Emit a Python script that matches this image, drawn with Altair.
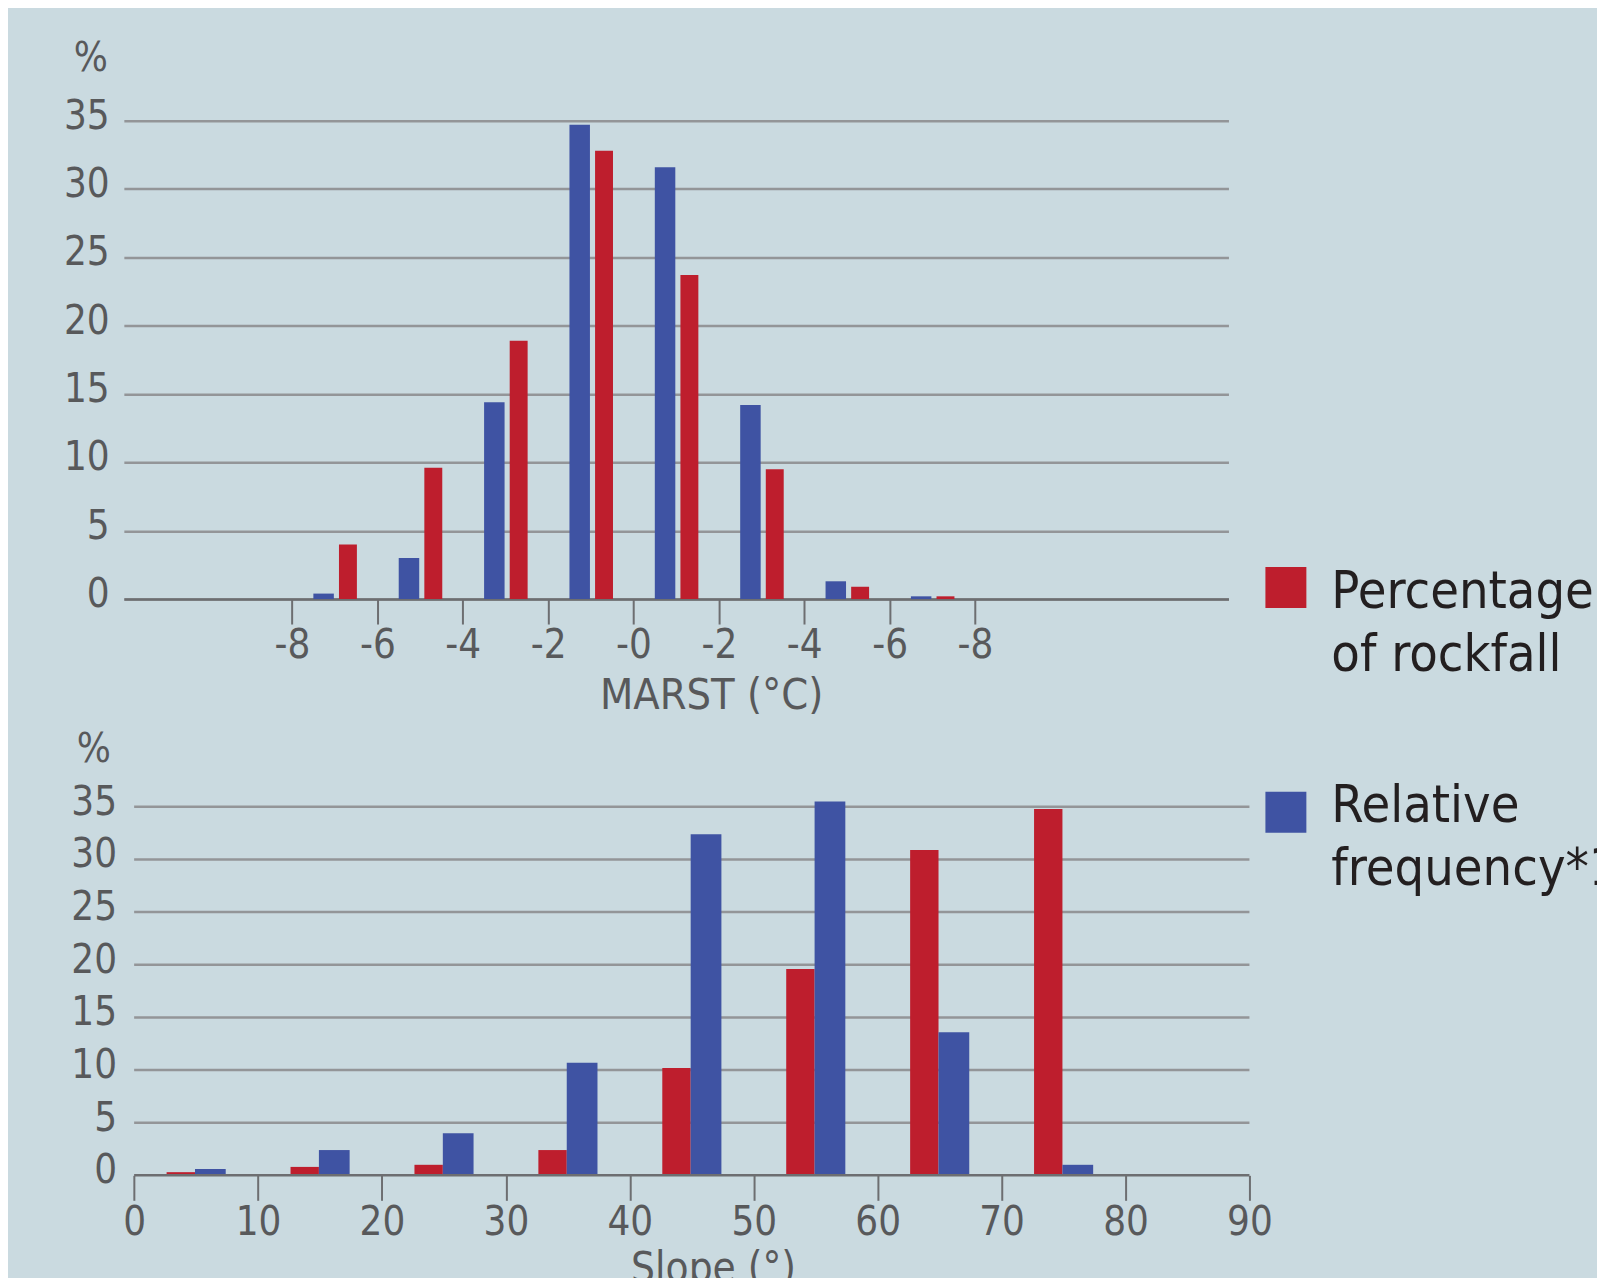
import json
import altair as alt
import pandas as pd

# ---------------- data ----------------
marst_tick_labels = ["-8", "-6", "-4", "-2", "-0", "-2", "-4", "-6", "-8"]
marst_bins = [0, 1, 2, 3, 4, 5, 6, 7]
marst_rockfall = [4.0, 9.6, 18.9, 32.8, 23.7, 9.5, 0.9, 0.2]
marst_relfreq = [0.4, 3.0, 14.4, 34.7, 31.6, 14.2, 1.3, 0.2]

slope_bins = [0, 10, 20, 30, 40, 50, 60, 70]
slope_rockfall = [0.3, 0.8, 1.0, 2.4, 10.2, 19.6, 30.9, 34.8]
slope_relfreq = [0.6, 2.4, 4.0, 10.7, 32.4, 35.5, 13.6, 1.0]
slope_ticks = [0, 10, 20, 30, 40, 50, 60, 70, 80, 90]

y_ticks = [0, 5, 10, 15, 20, 25, 30, 35]

series_names = ["Percentage of rockfall", "Relative frequency*1"]
series_colors = ["#be1e2d", "#3f53a3"]
legend_lines = ["Percentage\nof rockfall", "Relative\nfrequency*1"]

# ---------------- styling ----------------
FONT = "DejaVu Sans Condensed"
LABEL = "#58595b"
AXISC = "#6d6e71"
GRID = "#939598"
BG = "#cadae0"
FS = 40

# ---------------- tables ----------------
top_rows = []
for b, r, f in zip(marst_bins, marst_rockfall, marst_relfreq):
    top_rows.append({"series": series_names[1], "x0": b + 0.25, "x1": b + 0.49, "v": f, "base": 0})
    top_rows.append({"series": series_names[0], "x0": b + 0.55, "x1": b + 0.76, "v": r, "base": 0})
top_df = pd.DataFrame(top_rows)

bot_rows = []
for b, r, f in zip(slope_bins, slope_rockfall, slope_relfreq):
    bot_rows.append({"series": series_names[0], "x0": b + 2.62, "x1": b + 4.91, "v": r, "base": 0})
    bot_rows.append({"series": series_names[1], "x0": b + 4.91, "x1": b + 7.39, "v": f, "base": 0})
bot_df = pd.DataFrame(bot_rows)

grid_df = pd.DataFrame({"g": [t for t in y_ticks if t > 0]})

color = alt.Color("series:N", scale=alt.Scale(domain=series_names, range=series_colors), legend=None)


def y_axis(pad, grid):
    return alt.Axis(values=y_ticks, title=None, domain=False, ticks=False, tickSize=0,
                    grid=grid, gridColor=GRID, gridWidth=2.5, labelFont=FONT,
                    labelFontSize=FS, labelColor=LABEL, labelOffset=-4.5,
                    labelPadding=pad, labelFlush=False)


def x_axis(values, title, title_x, title_fs, label_pad, title_pad, domain=True, label_expr=None):
    kw = dict(values=values, title=title, domain=domain, domainColor=AXISC, domainWidth=2.5,
              tickColor=AXISC, tickWidth=2, tickSize=25, labelPadding=label_pad,
              labelFontSize=FS, labelFont=FONT, labelColor=LABEL, grid=False,
              labelFlush=False, titleFont=FONT, titleFontSize=title_fs, titleColor=LABEL,
              titleFontWeight="normal", titlePadding=title_pad, titleX=title_x,
              titleAlign="center")
    if label_expr:
        kw["labelExpr"] = label_expr
    return alt.Axis(**kw)


label_expr = json.dumps(marst_tick_labels).replace('"', "'") + "[datum.value]"
one = pd.DataFrame({"k": [0]})

# ---------------- top panel (MARST) ----------------
top_bars = alt.Chart(top_df).mark_rect().encode(
    x=alt.X("x0:Q", scale=alt.Scale(domain=[-1.97, 10.97], nice=False, zero=False),
            axis=x_axis(list(range(9)), "MARST (°C)", 588, 43, 1.5, 9, True, label_expr)),
    x2="x1:Q",
    y=alt.Y("v:Q", scale=alt.Scale(domain=[0, 35], nice=False), axis=y_axis(14.7, True)),
    y2="base:Q",
    color=color,
)

# invisible element fixing the panel's upper bound
top_spacer = alt.Chart(one).mark_rect(opacity=0).encode(
    x=alt.value(0), x2=alt.value(1), y=alt.value(-90), y2=alt.value(-89))

top_pct = alt.Chart(one).mark_text(text="%", font=FONT, fontSize=FS, color=LABEL,
                                   baseline="middle", align="center").encode(
    x=alt.value(-33), y=alt.value(-62))

leg_red_sq = alt.Chart(one).mark_rect(color=series_colors[0]).encode(
    x=alt.value(1143), x2=alt.value(1184), y=alt.value(447), y2=alt.value(488))
leg_red_tx = alt.Chart(pd.DataFrame({"t": [legend_lines[0]]})).mark_text(
    font=FONT, fontSize=52, color="#231f20", align="left", baseline="alphabetic",
    lineBreak="\n", lineHeight=63).encode(text="t:N", x=alt.value(1209), y=alt.value(488))

top = alt.layer(top_bars, top_spacer, top_pct, leg_red_sq, leg_red_tx).properties(
    width=1106, height=479)

# ---------------- bottom panel (Slope) ----------------
bx = alt.Scale(domain=[-0.83, 90], nice=False, zero=False)
by = alt.Scale(domain=[0, 35], nice=False)

bot_grid = alt.Chart(grid_df).mark_rule(color=GRID, strokeWidth=2.5).encode(
    x=alt.datum(0, scale=bx), x2=alt.datum(90), y=alt.Y("g:Q", scale=by))

bot_bars = alt.Chart(bot_df).mark_rect().encode(
    x=alt.X("x0:Q", scale=bx,
            axis=x_axis(slope_ticks, "Slope (°)", 590, 42, 2, 6, False)),
    x2="x1:Q",
    y=alt.Y("v:Q", scale=by, axis=y_axis(7.3, False)),
    y2="base:Q",
    color=color,
)

bot_base = alt.Chart(one).mark_rule(color=AXISC, strokeWidth=2.5).encode(
    x=alt.datum(0), x2=alt.datum(90), y=alt.datum(0))

bot_spacer = alt.Chart(one).mark_rect(opacity=0).encode(
    x=alt.value(0), x2=alt.value(1), y=alt.value(-85), y2=alt.value(-84))

bot_pct = alt.Chart(one).mark_text(text="%", font=FONT, fontSize=FS, color=LABEL,
                                   baseline="middle", align="center").encode(
    x=alt.value(-30), y=alt.value(-57))

leg_blue_sq = alt.Chart(one).mark_rect(color=series_colors[1]).encode(
    x=alt.value(1143), x2=alt.value(1184), y=alt.value(-15), y2=alt.value(26))
leg_blue_tx = alt.Chart(pd.DataFrame({"t": [legend_lines[1]]})).mark_text(
    font=FONT, fontSize=52, color="#231f20", align="left", baseline="alphabetic",
    lineBreak="\n", lineHeight=63).encode(text="t:N", x=alt.value(1209), y=alt.value(15))

bottom = alt.layer(bot_grid, bot_bars, bot_base, bot_spacer, bot_pct,
                   leg_blue_sq, leg_blue_tx).properties(width=1127, height=369)

chart = alt.vconcat(top, bottom, spacing=4).properties(
    padding={"left": 55, "top": 22, "right": -22, "bottom": -12},
    background=BG,
).configure_view(stroke=None)

chart.save("out.html", embed_options={"renderer": "svg", "actions": False})
